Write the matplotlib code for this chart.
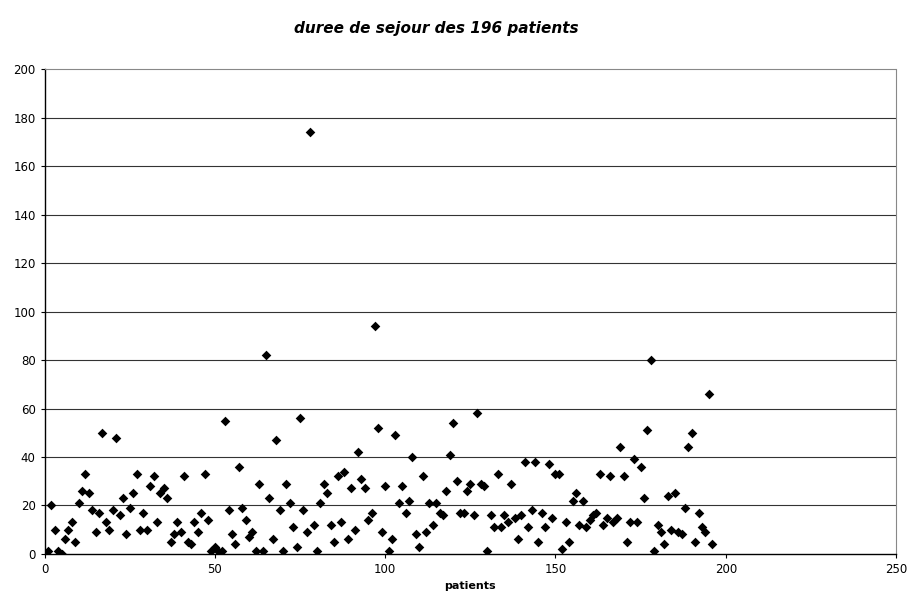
import numpy as np
import matplotlib
matplotlib.use("Agg")
import matplotlib.pyplot as plt

title = "duree de sejour des 196 patients"
xlabel = "patients"

duree = [
    1, 20, 10, 1, 0, 6, 10, 13, 5, 21, 26, 33, 25, 18, 9, 17, 50, 13, 10, 18,
    48, 16, 23, 8, 19, 25, 33, 10, 17, 10, 28, 32, 13,
    25, 27, 23, 5, 8, 13, 9, 32, 5, 4, 13, 9, 17, 33, 14, 1, 3, 1, 1, 55, 18,
    8, 4, 36, 19, 14, 7, 9, 1, 29, 1, 82, 23,
    6, 47, 18, 1, 29, 21, 11, 3, 56, 18, 9, 174, 12, 1, 21, 29, 25, 12, 5, 32,
    13, 34, 6, 27, 10, 42, 31, 27, 14, 17, 94, 52, 9, 28, 1,
    6, 49, 21, 28, 17, 22, 40, 8, 3, 32, 9, 21, 12, 21, 17, 16, 26, 41, 54, 30,
    17, 17, 26, 29, 16, 58, 29, 28, 1, 16, 11, 33, 11, 16,
    13, 29, 15, 6, 16, 38, 11, 18, 38, 5, 17, 11, 37, 15, 33, 33, 2, 13, 5, 22,
    25, 12, 22, 11, 14, 16, 17, 33, 12, 15, 32, 13, 15, 44,
    32, 5, 13, 39, 13, 36, 23, 51, 80, 1, 12, 9, 4, 24, 10, 25, 9, 8, 19, 44,
    50, 5, 17, 11, 9, 66, 4,
]
patients = list(range(1, len(duree) + 1))

x_ticks = [0, 50, 100, 150, 200, 250]
y_ticks = [0, 20, 40, 60, 80, 100, 120, 140, 160, 180, 200]

fig = plt.figure(figsize=(9.10, 5.93), dpi=100)
ax = fig.add_axes([0.049, 0.066, 0.9357, 0.817])

for yv in y_ticks[1:-1]:
    ax.axhline(yv, color="#333333", lw=0.8, zorder=1)

ax.scatter(patients, duree, marker="D", s=24, color="black", zorder=3, linewidths=0)

ax.set_xlim(0, 250)
ax.set_ylim(0, 200)
ax.set_xticks(x_ticks)
ax.set_yticks(y_ticks)
ax.tick_params(axis="both", labelsize=8.5, length=3, width=0.8, color="black")

for side in ["top", "right"]:
    ax.spines[side].set_linestyle((0, (1, 1)))
    ax.spines[side].set_color("#888888")
    ax.spines[side].set_linewidth(0.8)
for side in ["left", "bottom"]:
    ax.spines[side].set_color("black")
    ax.spines[side].set_linewidth(1.0)

ax.set_xlabel(xlabel, fontsize=8, fontweight="bold", labelpad=4)
fig.text(0.479, 0.952, title, fontsize=11, fontweight="bold", style="italic",
         ha="center", va="center")

fig.savefig("out.png", dpi=100)
